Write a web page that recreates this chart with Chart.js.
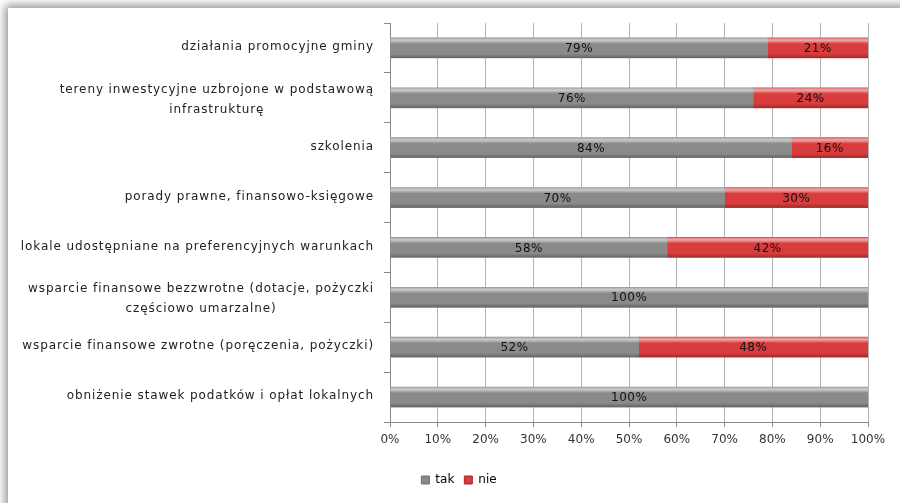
<!DOCTYPE html>
<html>
<head>
<meta charset="utf-8">
<script src="https://cdn.jsdelivr.net/npm/chart.js@4.4.1/dist/chart.umd.min.js"></script>
<style>
  html, body { margin: 0; padding: 0; background: #fff; overflow: hidden; }
  #frame {
    position: absolute; left: 8px; top: 8px; width: 960px; height: 560px;
    background: #fff; box-shadow: 0 0 9px 3px rgba(0,0,0,0.42);
  }
  #wrap { position: absolute; left: 0; top: 0; width: 900px; height: 503px; }
</style>
</head>
<body>
<div id="frame"></div>
<div id="wrap"><canvas id="chart" width="900" height="503"></canvas></div>
<script>
// categories, top to bottom
const categories = [
  "działania promocyjne gminy",
  ["tereny inwestycyjne uzbrojone w podstawową", "infrastrukturę"],
  "szkolenia",
  "porady prawne, finansowo-księgowe",
  "lokale udostępniane na preferencyjnych warunkach",
  ["wsparcie finansowe bezzwrotne (dotacje, pożyczki", "częściowo umarzalne)"],
  "wsparcie finansowe zwrotne (poręczenia, pożyczki)",
  "obniżenie stawek podatków i opłat lokalnych",
];
const tak = [79, 76, 84, 70, 58, 100, 52, 100];
const nie = [21, 24, 16, 30, 42, 0, 48, 0];
const xTicks = [0, 10, 20, 30, 40, 50, 60, 70, 80, 90, 100];

const FONT = "'DejaVu Sans', Verdana, sans-serif";

// light top strip + darker bottom edge, like the Excel bevel
const bevel = {
  id: "bevel",
  afterDatasetsDraw(chart) {
    const ctx = chart.ctx;
    chart.data.datasets.forEach((ds, i) => {
      chart.getDatasetMeta(i).data.forEach((bar) => {
        const left = Math.min(bar.x, bar.base);
        const w = Math.abs(bar.x - bar.base);
        if (w < 1) return;
        const top = bar.y - bar.height / 2;
        const h = bar.height;
        const g = ctx.createLinearGradient(0, top, 0, top + h);
        g.addColorStop(0, "rgba(255,255,255,0.25)");
        g.addColorStop(0.12, "rgba(255,255,255,0.55)");
        g.addColorStop(0.3, "rgba(255,255,255,0.0)");
        g.addColorStop(0.8, "rgba(0,0,0,0.0)");
        g.addColorStop(1, "rgba(0,0,0,0.28)");
        ctx.save();
        ctx.fillStyle = g;
        ctx.fillRect(left, top, w, h);
        ctx.restore();
      });
    });
  },
};

// centred value labels
const valueLabels = {
  id: "valueLabels",
  afterDatasetsDraw(chart) {
    const ctx = chart.ctx;
    ctx.save();
    ctx.font = "12px " + FONT;
    ctx.letterSpacing = "0.5px";
    ctx.fillStyle = "#111";
    ctx.textAlign = "center";
    ctx.textBaseline = "middle";
    chart.data.datasets.forEach((ds, i) => {
      chart.getDatasetMeta(i).data.forEach((bar, j) => {
        const v = ds.data[j];
        if (!v) return;
        ctx.fillText(v + "%", (bar.x + bar.base) / 2, bar.y + 1);
      });
    });
    ctx.restore();
  },
};

// category labels: block right-aligned to the axis, lines centred in the block
const catLabels = {
  id: "catLabels",
  afterDraw(chart) {
    const ctx = chart.ctx;
    const y = chart.scales.y;
    const right = y.right - 16;
    const lh = 20;
    ctx.save();
    ctx.font = "12px " + FONT;
    ctx.letterSpacing = "0.9px";
    ctx.fillStyle = "#222";
    ctx.textAlign = "center";
    ctx.textBaseline = "middle";
    categories.forEach((c, i) => {
      const lines = Array.isArray(c) ? c : [c];
      const bw = Math.max(...lines.map((l) => ctx.measureText(l).width));
      const cx = right - bw / 2;
      const cy = y.getPixelForValue(i) + (lines.length > 1 ? 2 : -1);
      lines.forEach((l, k) => {
        ctx.fillText(l, cx, cy + (k - (lines.length - 1) / 2) * lh);
      });
    });
    ctx.restore();
  },
};

new Chart(document.getElementById("chart"), {
  type: "bar",
  data: {
    labels: categories,
    datasets: [
      { label: "tak", data: tak, backgroundColor: "#8a8a8a", borderColor: "#6f6f6f", borderWidth: 0, barThickness: 20 },
      { label: "nie", data: nie, backgroundColor: "#d83c3c", borderColor: "#a82828", borderWidth: 0, barThickness: 20 },
    ],
  },
  options: {
    indexAxis: "y",
    responsive: false,
    animation: false,
    layout: { padding: { left: 50, right: 32, top: 23, bottom: 7 } },
    plugins: {
      legend: {
        position: "bottom",
        labels: {
          font: { family: FONT, size: 12 },
          color: "#222",
          boxWidth: 8,
          boxHeight: 8,
          padding: 10,
          generateLabels(chart) {
            return chart.data.datasets.map((ds, i) => ({
              text: ds.label,
              fillStyle: ds.backgroundColor,
              strokeStyle: ds.borderColor,
              lineWidth: 1,
              datasetIndex: i,
            }));
          },
        },
      },
      tooltip: { enabled: false },
    },
    scales: {
      x: {
        stacked: true,
        min: 0,
        max: 100,
        afterBuildTicks: (s) => { s.ticks = xTicks.map((v) => ({ value: v })); },
        afterFit: (s) => { s.height = 42; },
        ticks: {
          callback: (v) => v + "%",
          font: { family: FONT, size: 12 },
          color: "#333",
          padding: 6,
          maxRotation: 0,
        },
        grid: { color: "#b4b4b4", lineWidth: 1, tickLength: 5, tickColor: "#888" },
        border: { color: "#888" },
      },
      y: {
        stacked: true,
        afterFit: (s) => { s.width = 340; },
        ticks: { display: false },
        grid: { drawOnChartArea: false, tickLength: 6, color: "#888", offset: true },
        border: { color: "#888" },
      },
    },
  },
  plugins: [bevel, valueLabels, catLabels],
});
</script>
</body>
</html>
